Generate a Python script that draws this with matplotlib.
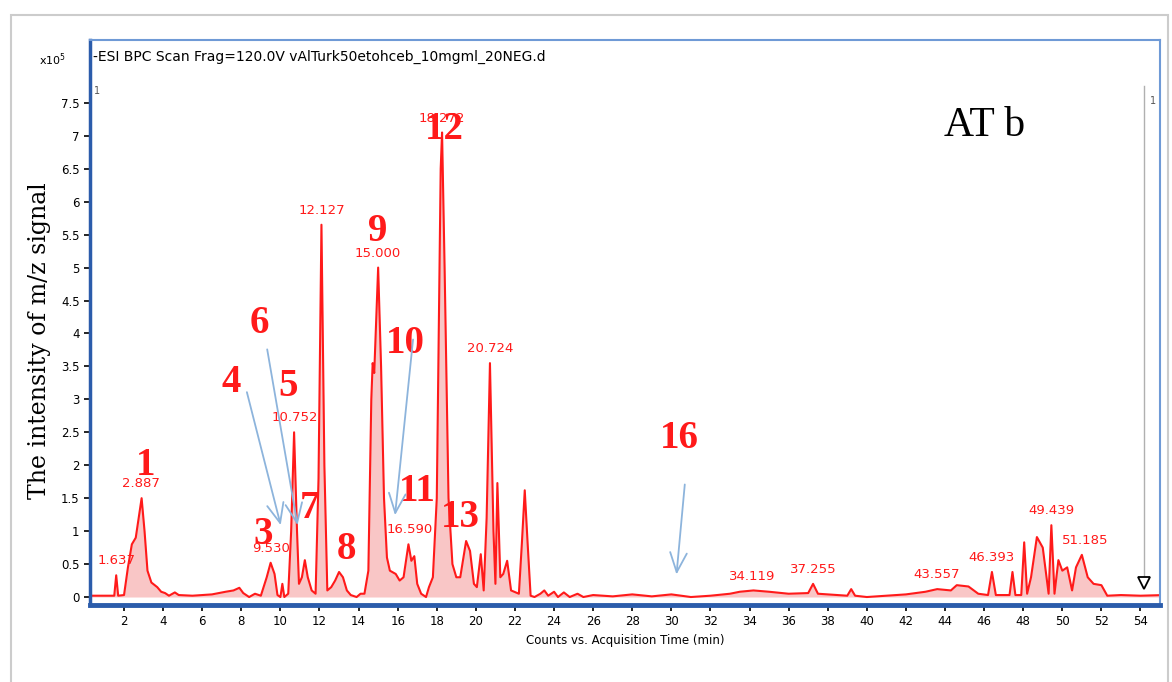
import matplotlib.pyplot as plt
from matplotlib.patches import Rectangle

# chromatogram trace (min, counts x1e5)
times = [0.3, 1.5, 1.6, 1.7, 2.0, 2.2, 2.4, 2.6, 2.75, 2.9, 3.05, 3.2, 3.4, 3.7, 3.9,
         4.1, 4.3, 4.6, 4.8, 5.5, 6.5, 7.2, 7.6, 7.9, 8.1, 8.4, 8.7, 9.0, 9.3, 9.5,
         9.7, 9.85, 10.0, 10.1, 10.2, 10.4, 10.55, 10.7, 10.85, 10.95, 11.1, 11.25,
         11.4, 11.6, 11.8, 11.95, 12.1, 12.25, 12.4, 12.6, 12.8, 13.0, 13.2, 13.4,
         13.6, 13.9, 14.1, 14.3, 14.5, 14.65, 14.72, 14.8, 15.0, 15.15, 15.3, 15.45,
         15.6, 15.9, 16.1, 16.3, 16.55, 16.7, 16.85, 17.0, 17.2, 17.45, 17.6, 17.8,
         18.0, 18.2, 18.27, 18.4, 18.6, 18.8, 19.0, 19.2, 19.5, 19.7, 19.9, 20.05,
         20.25, 20.4, 20.55, 20.72, 20.9, 21.0, 21.1, 21.25, 21.4, 21.6, 21.8, 22.2,
         22.35, 22.5, 22.65, 22.8, 23.0, 23.3, 23.5, 23.7, 24.0, 24.2, 24.5, 24.8,
         25.2, 25.5, 26.0, 27.0, 28.0, 29.0, 30.0, 31.0, 32.0, 33.0, 33.5, 34.2,
         35.0, 36.0, 37.0, 37.25, 37.5, 38.5, 39.0, 39.2, 39.4, 40.0, 41.0, 42.0,
         43.0, 43.6, 44.3, 44.6, 45.2, 45.7, 46.2, 46.4, 46.6, 47.3, 47.45, 47.6,
         47.9, 48.05, 48.2, 48.4, 48.7, 49.0, 49.3, 49.44, 49.6, 49.8, 50.0, 50.25,
         50.5, 50.7, 51.0, 51.3, 51.6, 52.0, 52.3, 53.0, 54.0, 55.2]
intensity = [0.02, 0.02, 0.33, 0.02, 0.03, 0.45, 0.8, 0.9, 1.2, 1.5, 1.0, 0.4, 0.22, 0.15, 0.08,
             0.06, 0.02, 0.07, 0.03, 0.02, 0.04, 0.08, 0.1, 0.14, 0.06, 0.0, 0.05, 0.02, 0.3, 0.52,
             0.35, 0.03, 0.0, 0.2, 0.0, 0.05, 1.0, 2.5, 1.0, 0.2, 0.3, 0.56,
             0.3, 0.1, 0.05, 1.8, 5.65, 2.0, 0.1, 0.15, 0.25, 0.38, 0.3, 0.1,
             0.03, 0.0, 0.05, 0.05, 0.4, 3.0, 3.55, 3.4, 5.0, 3.5, 1.5, 0.6,
             0.4, 0.35, 0.25, 0.3, 0.8, 0.55, 0.62, 0.2, 0.05, 0.0, 0.15, 0.3,
             1.5, 6.5, 7.05, 5.0, 1.5, 0.5, 0.3, 0.3, 0.85, 0.7, 0.2, 0.15,
             0.65, 0.1, 1.2, 3.55, 1.0, 0.2, 1.73, 0.3, 0.35, 0.55, 0.1, 0.05,
             0.8, 1.62, 0.8, 0.02, 0.0, 0.05, 0.1, 0.02, 0.08, 0.0, 0.07, 0.0,
             0.05, 0.0, 0.03, 0.01, 0.04, 0.01, 0.04, 0.0, 0.02, 0.05, 0.08, 0.1,
             0.08, 0.05, 0.06, 0.2, 0.05, 0.03, 0.02, 0.12, 0.02, 0.0, 0.02, 0.04,
             0.08, 0.12, 0.1, 0.18, 0.16, 0.05, 0.03, 0.38, 0.03, 0.03, 0.38, 0.03,
             0.03, 0.83, 0.05, 0.3, 0.91, 0.75, 0.05, 1.09, 0.05, 0.56, 0.4, 0.45,
             0.1, 0.45, 0.64, 0.3, 0.2, 0.18, 0.02, 0.03, 0.02, 0.03]

# retention-time labels printed by the instrument software
rt_labels = ["1.637", "2.887", "9.530", "10.752", "12.127", "15.000", "16.590",
             "18.272", "20.724", "34.119", "37.255", "43.557", "46.393", "49.439", "51.185"]
rt_heights = [0.33, 1.5, 0.52, 2.5, 5.65, 5.0, 0.8, 7.05, 3.55, 0.1, 0.2, 0.12, 0.38, 1.09, 0.64]

# compound numbers drawn on the chart and where they sit
peak_numbers = ["1", "3", "4", "5", "6", "7", "8", "9", "10", "11", "12", "13", "16"]
number_x = [3.1, 9.1, 7.5, 10.4, 8.9, 11.5, 13.4, 15.0, 16.4, 17.0, 18.4, 19.2, 30.4]
number_y = [2.0, 0.95, 3.25, 3.2, 4.15, 1.35, 0.72, 5.55, 3.85, 1.6, 7.1, 1.2, 2.4]

# blue arrows (number -> peak)
arrow_from = [(8.25, 3.15), (9.3, 3.8), (16.8, 3.95), (30.7, 1.75)]
arrow_to = [(10.05, 1.05), (10.9, 1.05), (15.85, 1.2), (30.25, 0.3)]

red = "#ff1a1a"
fig = plt.figure(figsize=(11.72, 6.82), dpi=100)
fig.patches.append(Rectangle((0.009, -0.01), 0.988, 0.988, transform=fig.transFigure,
                             fill=False, edgecolor="#cccccc", lw=1.5))
ax = fig.add_axes([0.0768, 0.113, 0.913, 0.828])

ax.fill_between(times, 0, intensity, color="#f8b4b4", alpha=0.75, lw=0)
ax.plot(times, intensity, color=red, lw=1.5)

for lab, h in zip(rt_labels, rt_heights):
    ax.text(float(lab), h + 0.12, lab, color=red, fontsize=9.5, ha="center", va="bottom")

for num, x, y in zip(peak_numbers, number_x, number_y):
    ax.text(x, y, num, color=red, fontsize=28, fontweight="bold",
            family="Liberation Serif", ha="center", va="center")

for (x0, y0), (x1, y1) in zip(arrow_from, arrow_to):
    ax.annotate("", xy=(x1, y1), xytext=(x0, y0),
                arrowprops=dict(arrowstyle="->,head_length=1.4,head_width=0.6",
                                color="#8db4dc", lw=1.3))

# cursor line at the right end
ax.plot([54.2, 54.2], [0.2, 7.75], color="#b0b0b0", lw=1)
ax.plot(54.2, 0.22, marker="v", ms=8, mfc="white", mec="black", mew=1.3)
ax.text(54.5, 7.6, "1", fontsize=7, color="#555555", va="top")
ax.text(0.45, 7.75, "1", fontsize=7, color="#555555", va="top")

ax.text(0.4, 8.3, "-ESI BPC Scan Frag=120.0V vAlTurk50etohceb_10mgml_20NEG.d",
        fontsize=10, va="top")
ax.text(46.0, 7.15, "AT b", fontsize=30, family="Liberation Serif", ha="center", va="center")

ax.set_xlim(0.26, 55.0)
ax.set_ylim(-0.12, 8.45)
ax.set_xticks(range(2, 55, 2))
yt = [i * 0.5 for i in range(16)]
ax.set_yticks(yt)
ax.set_yticklabels([f"{v:g}" for v in yt])
ax.tick_params(labelsize=8.5, length=4, width=1.2)
ax.set_xlabel("Counts vs. Acquisition Time (min)", fontsize=8.5)
fig.text(0.034, 0.5, "The intensity of m/z signal", rotation=90, fontsize=17,
         family="DejaVu Serif", ha="center", va="center")
fig.text(0.033, 0.905, "x10$^5$", fontsize=8)

for side in ["top", "right"]:
    ax.spines[side].set_color("#6f9ad6")
    ax.spines[side].set_linewidth(1.5)
ax.spines["left"].set_color("#2b5cab")
ax.spines["left"].set_linewidth(2.5)
ax.spines["bottom"].set_color("#2b5cab")
ax.spines["bottom"].set_linewidth(3.5)

fig.savefig("out.png", dpi=100)
